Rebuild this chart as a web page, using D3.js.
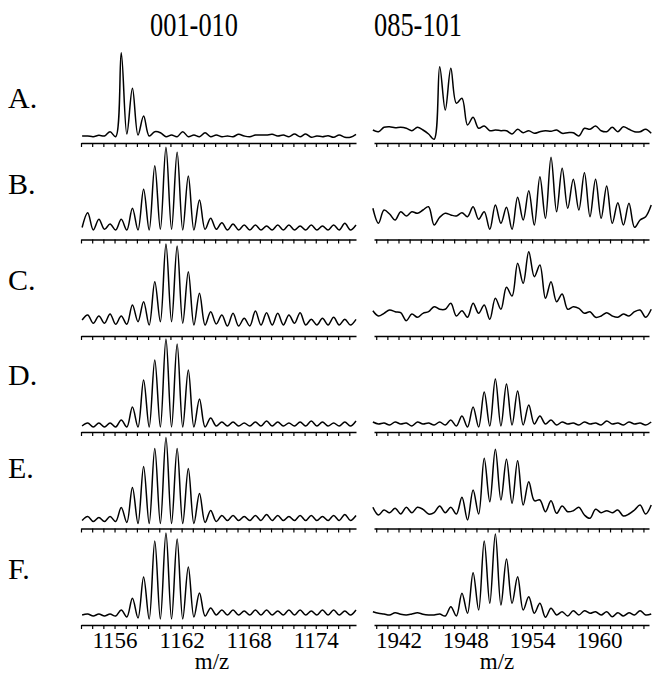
<!DOCTYPE html>
<html>
<head>
<meta charset="utf-8">
<script src="https://cdn.jsdelivr.net/npm/d3@7"></script>
<style>
  body { margin: 0; background: #fff; }
  svg { display: block; }
  text { font-family: "Liberation Serif", "Times New Roman", serif; fill: #000; }
</style>
</head>
<body>
<svg width="662" height="679"></svg>
<script>
// m/z sampling points (peak / valley positions)
const mzLeft = [1153.1,1153.6,1154.1,1154.6,1155.1,1155.6,1156.1,1156.6,1157.1,1157.6,1158.1,1158.6,1159.1,1159.6,1160.1,1160.6,1161.1,1161.6,1162.1,1162.6,1163.1,1163.6,1164.1,1164.6,1165.1,1165.6,1166.1,1166.6,1167.1,1167.6,1168.1,1168.6,1169.1,1169.6,1170.1,1170.6,1171.1,1171.6,1172.1,1172.6,1173.1,1173.6,1174.1,1174.6,1175.1,1175.6,1176.1,1176.6,1177.1,1177.6];
const mzRight = [1939.7,1940.2,1940.7,1941.2,1941.7,1942.2,1942.7,1943.2,1943.7,1944.2,1944.7,1945.2,1945.7,1946.2,1946.7,1947.2,1947.7,1948.2,1948.7,1949.2,1949.7,1950.2,1950.7,1951.2,1951.7,1952.2,1952.7,1953.2,1953.7,1954.2,1954.7,1955.2,1955.7,1956.2,1956.7,1957.2,1957.7,1958.2,1958.7,1959.2,1959.7,1960.2,1960.7,1961.2,1961.7,1962.2,1962.7,1963.2,1963.7,1964.2,1964.7];

// intensities (relative units), one array per panel
const left001A = [7,7,6.3,7.7,7,11.3,6.3,90.3,9,54.7,8,27,7,11.3,10.3,6.3,8,6.3,11.3,6.3,8,6.3,10.3,6.3,8,6.3,7,6.3,8.7,7,6.3,8,8,8,8.7,7,8,6.3,9,6.3,9,5.7,7,6.3,7.3,5.7,8,5.7,5.7,8.7];
const left001B = [12,26.8,9.5,20.2,10.2,15.5,9.5,20.2,9.5,31.2,9.5,50.2,9.5,73.8,10.2,92.2,10.2,87.2,9.5,63.5,9.5,39.5,10.2,21.2,10.2,16.8,9.5,15.5,9.5,14.5,9.5,14.5,9.5,13.5,9.5,14.5,9.5,14.5,9.5,13.5,9.5,14.5,9.5,13.5,9.5,14.5,9.5,16.2,9.5,14.5];
const left001C = [16,21,12.7,20,12.7,22,11.7,20,11.7,31,14.3,34.3,11,54.3,14.3,92,14.3,90,12.7,64.3,11,42.7,11,24.3,12,21,10,22.7,10,17.7,10,25,11,23.3,11,22.7,11,21,12.7,23.3,11,16.7,11,17.7,11,18.7,11,16.7,11,16.7];
const left001D = [6,9,5,9,5,9,5,12,5,25,5,52,5,72,5,93,5,88,5,62,5,33,5,14,6,10,6,10,6,9,6,10,6,11,6,10,6,9,6,10,6,11,6,10,6,9,6,10,6,11];
const left001E = [8,12,7,11,7,12,7,21,6,41,5,62,5,80,5,91,5,80,5,60,5,35,6,18,7,13,8,13,8,12,8,13,8,14,8,13,8,12,8,13,8,13,8,12,8,13,8,14,8,13];
const left001F = [10,11,9,11,9,11,9,15,8,26.7,7,48,6,84,6,92,6,86,6,58,8,32,9,17,10,15,10,15,10,14,10,15,10,15,10,14,10,15,10,15,10,14,10,15,10,15,10,14,10,15];

const right085A = [13,11.3,15.7,16.3,15.3,15.7,14.7,12.3,15.7,13,9,3.7,76.3,33,74.7,39.7,44.7,18,25.7,14.7,17,12.3,13,12.3,12.3,9,13.7,10.3,12.3,9.7,11.3,12.3,11.7,13,9.7,10.3,10.3,7,14.7,13.7,17,12.3,11.3,15.7,11.3,16.3,13.7,11.3,11.3,13.7,9.7];
const right085B = [31.2,16.2,29.5,25.5,19.5,27.8,23.5,27.8,26.2,29.5,32.8,14.5,22.2,26.2,24.5,23.5,26.8,22.8,32.8,20.2,27.8,10.2,34.5,16.2,32.2,10.2,42.2,19.5,48.8,14.5,62.8,21.2,82.2,27.8,71.2,31.2,60.2,29.5,66.8,22.8,60.2,21.2,53.5,16.2,36.8,14.5,36.2,12.2,19.5,22.8,34.5];
const right085C = [25.3,20,22.7,26,24.3,23.3,15.3,22,18.7,22.7,24.3,29.3,26.7,26.7,32.7,20,25.3,18.7,32.7,22.7,31,16.7,37.7,26.7,48.7,40,72.7,52.7,84.3,59.3,71,37.7,54.3,34.3,42,26.7,29.3,27.7,22.7,24.3,18.7,20,23.3,20,18.7,22,20,24.3,26,18.7,26.7];
const right085D = [10,8,9,7,10,8,9,6,10,8,9,7,10,7,12,6,16,5,25,5,40,6,53,6,48,7,41,7,27,8,16,8,12,7,10,8,9,7,10,8,9,7,11,8,9,7,10,8,9,7,10];
const right085E = [21.2,13.5,18.5,15.8,20.2,14.5,21.2,15.8,21.2,19.2,14.5,15.8,22.5,15.8,21.2,14.5,31.2,8.5,38.5,14.5,70.2,26.8,79.2,28.5,69.2,25.2,67.8,23.5,46.8,27.8,28.5,16.8,27.8,15.2,22.5,16.8,17.8,21.2,13.5,10.2,19.2,15.8,17.8,15.8,18.5,12.5,14.5,18.5,23.5,14.5,23.5];
const right085F = [13.3,11.7,11,10,12.3,10.7,10,11,12.3,10.7,10,10,11,9,18.3,9,31.7,11.7,52.3,15,84,21.7,91,20,66,21.7,48.3,15,28.3,11.7,21.7,7.7,16.7,10,13.3,9,14.3,10,14.3,11.7,13.3,10,13.3,8.3,12.3,9,12.3,10,14.3,10,11];

const rowLabels = ["A.", "B.", "C.", "D.", "E.", "F."];
const colTitles = ["001-010", "085-101"];
const leftTickLabels = [1156, 1162, 1168, 1174];
const rightTickLabels = [1942, 1948, 1954, 1960];

const leftSeries = [left001A, left001B, left001C, left001D, left001E, left001F];
const rightSeries = [right085A, right085B, right085C, right085D, right085E, right085F];

const svg = d3.select("svg");

// layout
const axisY = [143, 239.5, 336, 432, 528.5, 625];
const labelY = [108, 194, 290, 385, 478, 579];

const cols = [
    { mz: mzLeft, series: leftSeries, domain: [1153, 1177.6], range: [81, 356],
      ticks: d3.range(1153, 1178), labels: leftTickLabels, titleX: 194, mzX: 212 },
    { mz: mzRight, series: rightSeries, domain: [1939.8, 1964.5], range: [374, 649],
      ticks: d3.range(1940, 1965), labels: rightTickLabels, titleX: 418, mzX: 497 }
];

cols.forEach((c, ci) => {
    const x = d3.scaleLinear().domain(c.domain).range(c.range);

    svg.append("text")
        .attr("x", c.titleX).attr("y", 36)
        .attr("text-anchor", "middle")
        .attr("font-size", 34)
        .attr("textLength", 88)
        .attr("lengthAdjust", "spacingAndGlyphs")
        .text(colTitles[ci]);

    c.series.forEach((vals, ri) => {
        const y = d3.scaleLinear().domain([0, 100]).range([axisY[ri], axisY[ri] - 100]);

        // axis line with small ticks hanging down
        const g = svg.append("g").attr("transform", `translate(0,${axisY[ri]})`)
            .call(d3.axisBottom(x).tickValues(c.ticks).tickSize(4).tickSizeOuter(0).tickFormat(""));
        g.select(".domain").attr("stroke-width", 1.5);
        g.selectAll(".tick line").attr("stroke-width", 1.2);

        const line = d3.line()
            .x((d, i) => x(c.mz[i]))
            .y(d => y(d))
            .curve(d3.curveCatmullRom.alpha(0.5));

        svg.append("path")
            .datum(vals)
            .attr("d", line)
            .attr("fill", "none")
            .attr("stroke", "#000")
            .attr("stroke-width", 1.5);
    });

    // bottom tick labels
    const gl = svg.append("g").attr("transform", `translate(0,${axisY[5]})`)
        .call(d3.axisBottom(x).tickValues(c.labels).tickSize(0).tickFormat(d3.format("d")));
    gl.select(".domain").remove();
    gl.selectAll("text")
        .attr("font-size", 23)
        .attr("font-family", "Liberation Serif, serif")
        .attr("dy", 0).attr("y", 23);

    svg.append("text")
        .attr("x", c.mzX).attr("y", 669)
        .attr("text-anchor", "middle")
        .attr("font-size", 23)
        .text("m/z");
});

svg.selectAll(".rowlab")
    .data(rowLabels)
    .enter()
    .append("text")
    .attr("class", "rowlab")
    .attr("x", 8)
    .attr("y", (d, i) => labelY[i])
    .attr("font-size", 30)
    .text(d => d);
</script>
</body>
</html>
